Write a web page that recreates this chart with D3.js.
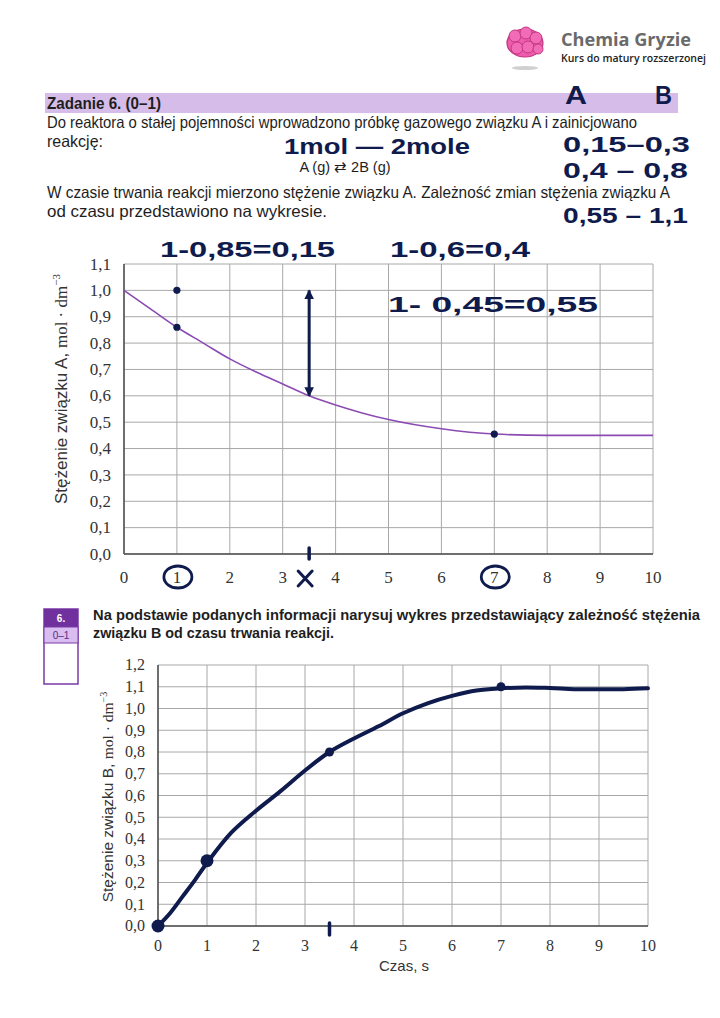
<!DOCTYPE html>
<html lang="pl">
<head>
<meta charset="UTF-8">
<title>Zadanie 6 – stężenie A i B</title>
<script src="https://d3js.org/d3.v7.min.js"></script>
<style>
  body { margin: 0; background: #fff; }
  svg { display: block; }
  .txt { font-family: "Liberation Sans", Arial, sans-serif; fill: #1e1e1e; }
  .tick { font-family: "Liberation Serif", "DejaVu Serif", serif; fill: #333; }
  .hand { font-family: "Liberation Sans", Arial, sans-serif; font-weight: 700; fill: #0f1b4c; }
</style>
</head>
<body>
<div id="page"></div>
<script>
  // axis ticks
  const timeTicks = [0, 1, 2, 3, 4, 5, 6, 7, 8, 9, 10];
  const concTicksA = [0, 0.1, 0.2, 0.3, 0.4, 0.5, 0.6, 0.7, 0.8, 0.9, 1.0, 1.1];
  const concTicksB = [0, 0.1, 0.2, 0.3, 0.4, 0.5, 0.6, 0.7, 0.8, 0.9, 1.0, 1.1, 1.2];

  // printed curve for A
  const timeA = [0, 0.5, 1, 1.5, 2, 2.5, 3, 3.5, 4, 4.5, 5, 6, 7, 8, 9, 10];
  const concA = [1.0, 0.93, 0.86, 0.80, 0.74, 0.69, 0.645, 0.60, 0.565, 0.535, 0.51, 0.475, 0.455, 0.45, 0.45, 0.45];

  // hand drawn curve for B
  const timeB = [0, 0.25, 0.5, 0.75, 1, 1.5, 2, 2.5, 3, 3.5, 4, 4.5, 5, 5.5, 6, 6.5, 7, 7.5, 8, 8.5, 9, 9.5, 10];
  const concB = [0, 0.06, 0.135, 0.21, 0.29, 0.43, 0.53, 0.62, 0.715, 0.80, 0.862, 0.918, 0.978, 1.024, 1.058, 1.083, 1.093, 1.097, 1.094, 1.089, 1.089, 1.089, 1.093];

  // hand marks
  const dotsA = [[1, 1.0], [1, 0.86], [7, 0.455]];
  const dotsB = [[0, 0, 6.5], [1, 0.3, 6.5], [3.5, 0.8, 4.5], [7, 1.1, 4.5]];
  const arrowA = [3.5, 0.6, 1.0];
  const circledTimes = [1, 7];
  const markedTime = 3.5;

  const notes = [
    {text: "A", x: 565, y: 104, w: 22, size: 25},
    {text: "B", x: 655, y: 104, w: 17, size: 25},
    {text: "1mol — 2mole", x: 284, y: 154, w: 186, size: 22},
    {text: "0,15–0,3", x: 563, y: 152, w: 127, size: 22},
    {text: "0,4 – 0,8", x: 563, y: 178, w: 125, size: 22},
    {text: "0,55 – 1,1", x: 563, y: 223, w: 125, size: 22},
    {text: "1-0,85=0,15", x: 160, y: 257, w: 175, size: 22},
    {text: "1-0,6=0,4", x: 390, y: 257, w: 140, size: 22},
    {text: "1- 0,45=0,55", x: 388, y: 312, w: 210, size: 22}
  ];

  const width = 720, height = 1018;
  const ink = "#0f1b4c";
  const comma = d => d3.format(".1f")(d).replace(".", ",");

  const svg = d3.select("#page").append("svg")
      .attr("width", width)
      .attr("height", height);

  svg.append("rect").attr("width", width).attr("height", height).attr("fill", "#fff");

  // logo
  const logo = svg.append("g");
  logo.append("ellipse").attr("cx", 525).attr("cy", 68).attr("rx", 13).attr("ry", 2).attr("fill", "#d0d0d0");
  logo.append("ellipse").attr("cx", 525).attr("cy", 43).attr("rx", 18).attr("ry", 14)
      .attr("fill", "#ef5cae").attr("stroke", "#c2377f").attr("stroke-width", 1.2);
  [[515, 36, 6], [526, 33, 6], [536, 38, 6], [517, 48, 6], [528, 47, 6], [538, 49, 5]].forEach(c => {
    logo.append("circle").attr("cx", c[0]).attr("cy", c[1]).attr("r", c[2])
        .attr("fill", "#f26bb7").attr("stroke", "#c2377f").attr("stroke-width", 1);
  });
  logo.append("text").attr("x", 561).attr("y", 46)
      .style("font-family", "'Open Sans', sans-serif").style("font-weight", 700).style("font-size", "18px")
      .attr("textLength", 130).attr("lengthAdjust", "spacingAndGlyphs")
      .attr("fill", "#6a6a6a").text("Chemia Gryzie");
  logo.append("text").attr("x", 561).attr("y", 62)
      .style("font-family", "'Open Sans', sans-serif").style("font-weight", 600).style("font-size", "10.5px")
      .attr("textLength", 145).attr("lengthAdjust", "spacingAndGlyphs")
      .attr("fill", "#222").text("Kurs do matury rozszerzonej");

  // task header
  svg.append("rect").attr("x", 45).attr("y", 93).attr("width", 633).attr("height", 20).attr("fill", "#d6bce8");
  svg.append("text").attr("class", "txt").attr("x", 47).attr("y", 109)
      .style("font-size", "16px").style("font-weight", 700)
      .attr("textLength", 114).attr("lengthAdjust", "spacingAndGlyphs").text("Zadanie 6. (0–1)");

  const lines = [
    {t: "Do reaktora o stałej pojemności wprowadzono próbkę gazowego związku A i zainicjowano", x: 47, y: 128, w: 590},
    {t: "reakcję:", x: 47, y: 147, w: 56},
    {t: "W czasie trwania reakcji mierzono stężenie związku A. Zależność zmian stężenia związku A", x: 47, y: 198, w: 623},
    {t: "od czasu przedstawiono na wykresie.", x: 47, y: 217, w: 280}
  ];
  lines.forEach(l => {
    svg.append("text").attr("class", "txt").attr("x", l.x).attr("y", l.y)
        .style("font-size", "16.5px")
        .attr("textLength", l.w).attr("lengthAdjust", "spacingAndGlyphs")
        .text(l.t);
  });
  svg.append("text").attr("class", "txt").attr("x", 345).attr("y", 172)
      .attr("text-anchor", "middle").style("font-size", "14.5px").text("A (g) ⇄ 2B (g)");

  // shared chart drawing
  function drawGrid(g, x, y, yTicks) {
    g.selectAll(".gx").data(timeTicks).enter().append("line")
        .attr("x1", d => x(d)).attr("x2", d => x(d))
        .attr("y1", y.range()[0]).attr("y2", y.range()[1])
        .attr("stroke", "#a8a8a8").attr("stroke-width", 1);
    g.selectAll(".gy").data(yTicks).enter().append("line")
        .attr("x1", x.range()[0]).attr("x2", x.range()[1])
        .attr("y1", d => y(d)).attr("y2", d => y(d))
        .attr("stroke", "#a8a8a8").attr("stroke-width", 1);
    // darker axes
    g.append("line").attr("x1", x.range()[0]).attr("x2", x.range()[1])
        .attr("y1", y(0)).attr("y2", y(0)).attr("stroke", "#4d4d4d").attr("stroke-width", 1.5);
    g.append("line").attr("x1", x(0)).attr("x2", x(0))
        .attr("y1", y.range()[0]).attr("y2", y.range()[1]).attr("stroke", "#4d4d4d").attr("stroke-width", 1.5);
  }

  function drawTickLabels(g, x, y, yTicks, yLabelX, xLabelY, size) {
    g.selectAll(".ty").data(yTicks).enter().append("text").attr("class", "tick")
        .style("font-size", size + "px")
        .attr("x", yLabelX).attr("y", d => y(d) + size * 0.33).attr("text-anchor", "end").text(comma);
    g.selectAll(".tx").data(timeTicks).enter().append("text").attr("class", "tick")
        .style("font-size", size + "px")
        .attr("x", d => x(d)).attr("y", xLabelY).attr("text-anchor", "middle").text(d => d);
  }

  function yTitle(g, cx, cy, name, size) {
    const t = g.append("text").attr("transform", `translate(${cx},${cy}) rotate(-90)`)
        .attr("text-anchor", "middle").style("font-size", size + "px").attr("fill", "#333");
    t.append("tspan").style("font-family", "'Liberation Sans', Arial, sans-serif").text(`Stężenie związku ${name}, `);
    t.append("tspan").style("font-family", "'Liberation Serif', serif").text("mol · dm");
    t.append("tspan").style("font-family", "'Liberation Serif', serif").style("font-size", (size * 0.65) + "px")
        .attr("dy", -size * 0.4).text("−3");
  }

  // ---------- chart A ----------
  const xA = d3.scaleLinear().domain([0, 10]).range([124, 653]);
  const yA = d3.scaleLinear().domain([0, 1.1]).range([554, 264]);
  const gA = svg.append("g");
  drawGrid(gA, xA, yA, concTicksA);
  drawTickLabels(gA, xA, yA, concTicksA, 111, 583, 17);
  yTitle(gA, 67, 389, "A", 17);

  gA.append("path")
      .datum(timeA.map((t, i) => [t, concA[i]]))
      .attr("d", d3.line().x(d => xA(d[0])).y(d => yA(d[1])).curve(d3.curveMonotoneX))
      .attr("fill", "none").attr("stroke", "#8b4bb3").attr("stroke-width", 1.6);

  // hand marks on A
  gA.selectAll(".dotA").data(dotsA).enter().append("circle")
      .attr("cx", d => xA(d[0])).attr("cy", d => yA(d[1])).attr("r", 3.6).attr("fill", ink);

  const defs = svg.append("defs");
  defs.append("marker").attr("id", "head").attr("viewBox", "0 0 10 10")
      .attr("refX", 9).attr("refY", 5).attr("markerWidth", 3.2).attr("markerHeight", 7)
      .attr("orient", "auto-start-reverse").attr("markerUnits", "strokeWidth")
    .append("path").attr("d", "M0,0 L10,5 L0,10 Z").attr("fill", ink);
  gA.append("line")
      .attr("x1", xA(arrowA[0])).attr("x2", xA(arrowA[0]))
      .attr("y1", yA(arrowA[1])).attr("y2", yA(arrowA[2]))
      .attr("stroke", ink).attr("stroke-width", 3)
      .attr("marker-start", "url(#head)").attr("marker-end", "url(#head)");

  gA.append("line").attr("x1", xA(markedTime)).attr("x2", xA(markedTime))
      .attr("y1", yA(0) - 6).attr("y2", yA(0) + 5).attr("stroke", ink).attr("stroke-width", 3.5)
      .attr("stroke-linecap", "round");
  const xm = xA(markedTime) - 4, ym = 578;
  gA.append("path").attr("d", `M${xm - 7},${ym - 7}L${xm + 7},${ym + 8}M${xm + 7},${ym - 7}L${xm - 7},${ym + 8}`)
      .attr("stroke", ink).attr("stroke-width", 3).attr("stroke-linecap", "round").attr("fill", "none");
  gA.selectAll(".circ").data(circledTimes).enter().append("ellipse")
      .attr("cx", d => xA(d) + 1).attr("cy", 577).attr("rx", 14).attr("ry", 11)
      .attr("fill", "none").attr("stroke", ink).attr("stroke-width", 2.8);

  // ---------- score box + question ----------
  const box = svg.append("g");
  box.append("rect").attr("x", 44).attr("y", 609).attr("width", 34).attr("height", 75)
      .attr("fill", "#fff").attr("stroke", "#7a3aa6").attr("stroke-width", 1.5);
  box.append("rect").attr("x", 44).attr("y", 609).attr("width", 34).attr("height", 18).attr("fill", "#70309e");
  box.append("rect").attr("x", 44).attr("y", 627).attr("width", 34).attr("height", 16)
      .attr("fill", "#d9bdf0").attr("stroke", "#7a3aa6").attr("stroke-width", 1);
  box.append("text").attr("class", "txt").attr("x", 61).attr("y", 622).attr("text-anchor", "middle")
      .style("font-size", "10px").style("font-weight", 700).style("fill", "#fff").text("6.");
  box.append("text").attr("class", "txt").attr("x", 61).attr("y", 639).attr("text-anchor", "middle")
      .style("font-size", "10px").style("fill", "#5a2a80").text("0–1");

  svg.append("text").attr("class", "txt").attr("x", 93).attr("y", 620)
      .style("font-size", "15px").style("font-weight", 700)
      .attr("textLength", 607).attr("lengthAdjust", "spacingAndGlyphs")
      .text("Na podstawie podanych informacji narysuj wykres przedstawiający zależność stężenia");
  svg.append("text").attr("class", "txt").attr("x", 93).attr("y", 638)
      .style("font-size", "15px").style("font-weight", 700)
      .attr("textLength", 241).attr("lengthAdjust", "spacingAndGlyphs")
      .text("związku B od czasu trwania reakcji.");

  // ---------- chart B ----------
  const xB = d3.scaleLinear().domain([0, 10]).range([158, 648]);
  const yB = d3.scaleLinear().domain([0, 1.2]).range([926, 665]);
  const gB = svg.append("g");
  drawGrid(gB, xB, yB, concTicksB);
  drawTickLabels(gB, xB, yB, concTicksB, 145, 951, 16);
  yTitle(gB, 113, 797, "B", 15.5);
  gB.append("text").attr("class", "txt").attr("x", 404).attr("y", 971).attr("text-anchor", "middle")
      .style("font-size", "15px").style("fill", "#333").text("Czas, s");

  gB.append("path")
      .datum(timeB.map((t, i) => [t, concB[i]]))
      .attr("d", d3.line().x(d => xB(d[0])).y(d => yB(d[1])).curve(d3.curveCatmullRom))
      .attr("fill", "none").attr("stroke", ink).attr("stroke-width", 4)
      .attr("stroke-linecap", "round").attr("stroke-linejoin", "round");
  gB.selectAll(".dotB").data(dotsB).enter().append("circle")
      .attr("cx", d => xB(d[0])).attr("cy", d => yB(d[1])).attr("r", d => d[2]).attr("fill", ink);
  gB.append("line").attr("x1", xB(markedTime)).attr("x2", xB(markedTime))
      .attr("y1", yB(0) - 3).attr("y2", yB(0) + 9).attr("stroke", ink).attr("stroke-width", 3.5)
      .attr("stroke-linecap", "round");

  // handwritten notes
  svg.selectAll(".note").data(notes).enter().append("text").attr("class", "hand")
      .attr("x", d => d.x).attr("y", d => d.y)
      .style("font-size", d => d.size + "px")
      .attr("textLength", d => d.w).attr("lengthAdjust", "spacingAndGlyphs")
      .text(d => d.text);
</script>
</body>
</html>
